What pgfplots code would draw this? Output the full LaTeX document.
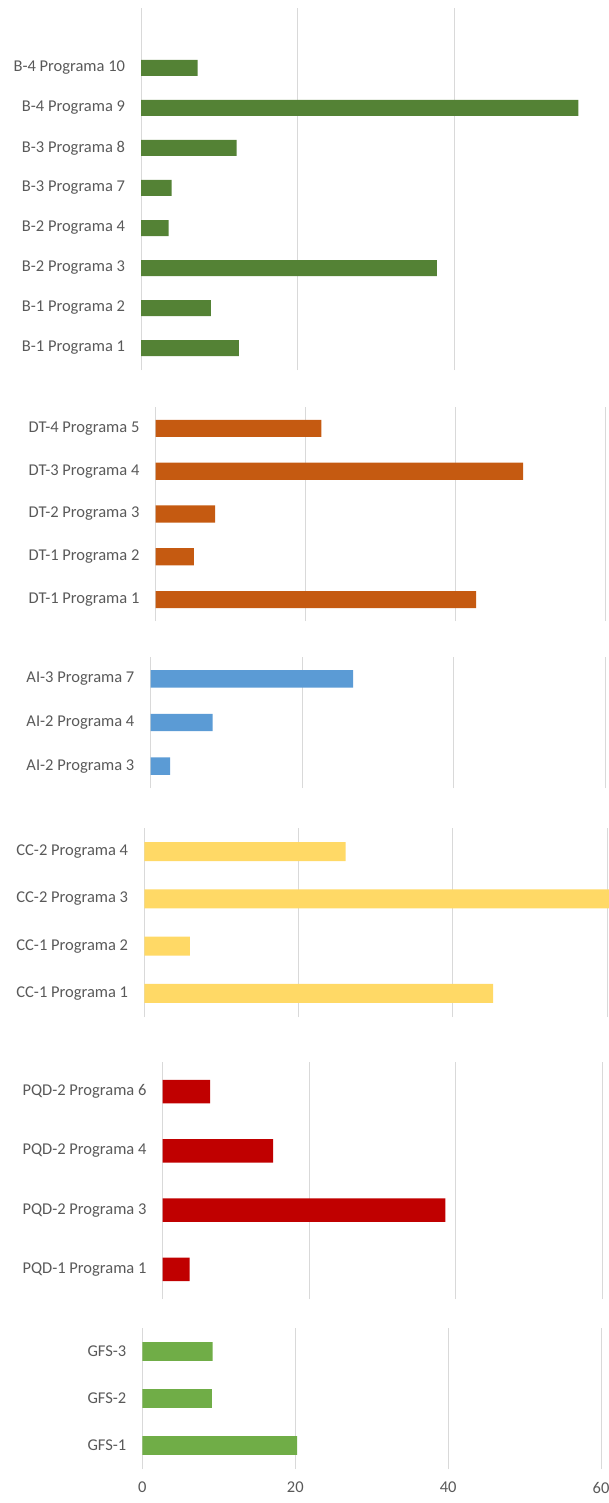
\documentclass[border=0pt]{standalone}
\usepackage{fontspec}
\setmainfont{Carlito}
\usepackage{pgfplots}
\pgfplotsset{compat=1.18}
\definecolor{txt}{HTML}{595959}
\definecolor{grd}{HTML}{D9D9D9}
\definecolor{cB}{HTML}{548235}
\definecolor{cDT}{HTML}{C55A11}
\definecolor{cAI}{HTML}{5B9BD5}
\definecolor{cCC}{HTML}{FFD966}
\definecolor{cPQD}{HTML}{C00000}
\definecolor{cGFS}{HTML}{70AD47}
\pgfplotsset{panel/.style={
  xbar, scale only axis, xmin=0, xmax=60, bar width=0.4,
  axis line style={draw=none}, major tick length=0,
  xmajorgrids, major grid style={grd, line width=1bp},
  xtick={0,20,40,60}, xticklabels={},
  tick label style={font=\fontsize{16.5bp}{20bp}\selectfont, text=txt},
  yticklabel style={inner sep=0pt, xshift=-16bp, anchor=east},
  xticklabel style={inner sep=0pt, yshift=-13bp, anchor=north},
  anchor=south west}}
\begin{document}
\begin{tikzpicture}
\useasboundingbox (0,0) rectangle (609bp,-1503bp);
% B
\begin{axis}[panel, at={(141.2bp,-370bp)}, width=469.2bp, height=362bp,
  xtick={0,20,40}, ymin=-0.55, ymax=8.5,
  ytick={0,1,2,3,4,5,6,7},
  yticklabels={B-1 Programa 1,B-1 Programa 2,B-2 Programa 3,B-2 Programa 4,B-3 Programa 7,B-3 Programa 8,B-4 Programa 9,B-4 Programa 10}]
\addplot[fill=cB, draw=none] coordinates {(12.5,0) (8.9,1) (37.8,2) (3.5,3) (3.9,4) (12.2,5) (55.9,6) (7.2,7)};
\end{axis}
% DT
\begin{axis}[panel, at={(155.6bp,-621bp)}, width=450bp, height=214bp,
  ymin=-0.5, ymax=4.5, ytick={0,1,2,3,4},
  yticklabels={DT-1 Programa 1,DT-1 Programa 2,DT-2 Programa 3,DT-3 Programa 4,DT-4 Programa 5}]
\addplot[fill=cDT, draw=none] coordinates {(42.75,0) (5.1,1) (7.95,2) (49.0,3) (22.1,4)};
\end{axis}
% AI
\begin{axis}[panel, at={(150.5bp,-788bp)}, width=455.1bp, height=131bp,
  ymin=-0.5, ymax=2.5, ytick={0,1,2},
  yticklabels={AI-2 Programa 3,AI-2 Programa 4,AI-3 Programa 7}]
\addplot[fill=cAI, draw=none] coordinates {(2.6,0) (8.2,1) (26.7,2)};
\end{axis}
% CC
\begin{axis}[panel, clip=false, at={(144.3bp,-1017bp)}, width=462.9bp, height=189bp,
  ymin=-0.5, ymax=3.5, ytick={0,1,2,3},
  yticklabels={CC-1 Programa 1,CC-1 Programa 2,CC-2 Programa 3,CC-2 Programa 4}]
\addplot[fill=cCC, draw=none] coordinates {(45.2,0) (5.9,1) (62,2) (26.1,3)};
\end{axis}
% PQD
\begin{axis}[panel, at={(162.6bp,-1299bp)}, width=439.5bp, height=237bp,
  ymin=-0.5, ymax=3.5, ytick={0,1,2,3},
  yticklabels={PQD-1 Programa 1,PQD-2 Programa 3,PQD-2 Programa 4,PQD-2 Programa 6}]
\addplot[fill=cPQD, draw=none] coordinates {(3.7,0) (38.6,1) (15.1,2) (6.5,3)};
\end{axis}
% GFS
\begin{axis}[panel, at={(142.4bp,-1469bp)}, width=458.6bp, height=141bp,
  ymin=-0.5, ymax=2.5, ytick={0,1,2},
  xticklabels={0,20,40,60},
  yticklabels={GFS-1,GFS-2,GFS-3}]
\addplot[fill=cGFS, draw=none] coordinates {(20.25,0) (9.1,1) (9.2,2)};
\end{axis}
\end{tikzpicture}
\end{document}
